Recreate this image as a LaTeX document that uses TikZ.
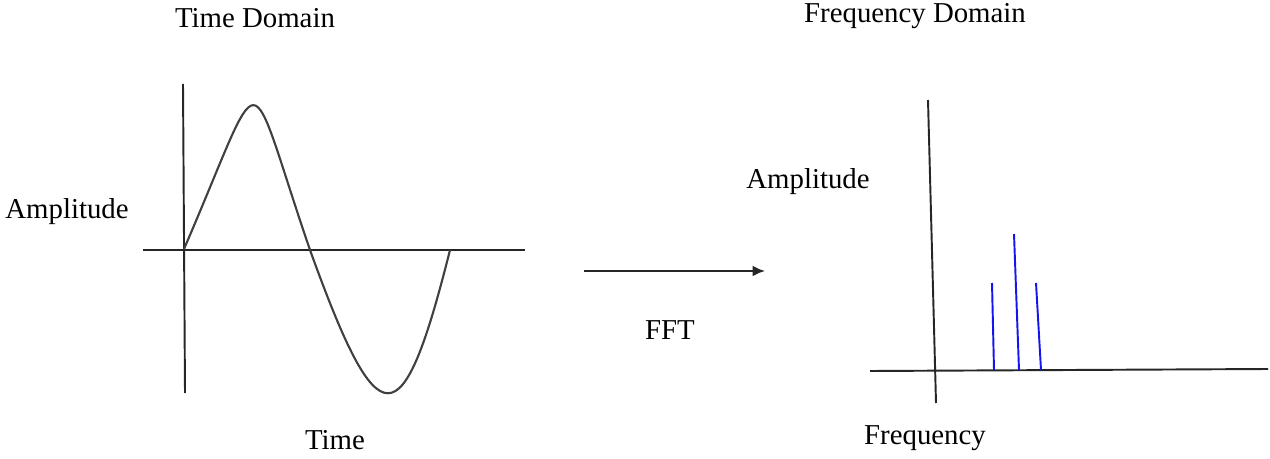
\documentclass[tikz,border=0pt]{standalone}
\usepackage{fontspec}
\setmainfont{Liberation Serif}
\usepackage{tikz}
\usetikzlibrary{positioning, calc, arrows.meta}

\definecolor{spikeBlue}{RGB}{20, 20, 240}

\begin{document}
\begin{tikzpicture}[
    x=0.02cm, y=-0.02cm,
    axis/.style={draw=black!85, line width=1.1pt},
    wave/.style={draw=black!75, line width=1.2pt},
    spike/.style={draw=spikeBlue, line width=1.1pt},
    txt/.style={font=\fontsize{16.4}{19}\selectfont, inner sep=0pt},
  ]
    \useasboundingbox (0,0) rectangle (1270,459);

    % time domain
    \coordinate (TYtop) at (183,84);
    \coordinate (TYbot) at (185,393);
    \coordinate (TXleft) at (143,250);
    \coordinate (TXright) at (525,250);
    \draw[axis] (TYtop) -- (TYbot);
    \draw[axis] (TXleft) -- (TXright);

    \coordinate (W0) at (184,249);
    \coordinate (Wcross) at (310,250);
    \coordinate (Wend) at (450,250);
    \draw[wave] (W0) .. controls (267,57) and (244,57) .. (Wcross)
                .. controls (379,441) and (402,441) .. (Wend);

    \node[txt] (TTitle) at (255,18) {Time Domain};
    \node[txt] (TAmp) at (67,212) {Amplitude};
    \node[txt] (TTime) at (335,440) {Time};

    % transform
    \coordinate (FFTstart) at (584,271);
    \coordinate (FFTend) at (765,271);
    \draw[axis, -{Latex[length=7pt, width=6pt]}] (FFTstart) -- (FFTend);
    \node[txt] (FFT) at (670,330) {FFT};

    % frequency domain
    \coordinate (FYtop) at (928,100);
    \coordinate (FYbot) at (936,403);
    \coordinate (FXleft) at (870,371);
    \coordinate (FXright) at (1268,369);
    \draw[axis] (FYtop) -- (FYbot);
    \draw[axis] (FXleft) -- (FXright);

    \coordinate (S1top) at (992,283);
    \coordinate (S1bot) at (994,370);
    \coordinate (S2top) at (1014,234);
    \coordinate (S2bot) at (1019,370);
    \coordinate (S3top) at (1036,283);
    \coordinate (S3bot) at (1041,370);
    \draw[spike] (S1top) -- (S1bot);
    \draw[spike] (S2top) -- (S2bot);
    \draw[spike] (S3top) -- (S3bot);

    \node[txt] (FTitle) at (915,16) {Frequency Domain};
    \node[txt] (FAmp) at (808,182) {Amplitude};
    \node[txt] (FFreq) at (925,438) {Frequency};
  \end{tikzpicture}
\end{document}
